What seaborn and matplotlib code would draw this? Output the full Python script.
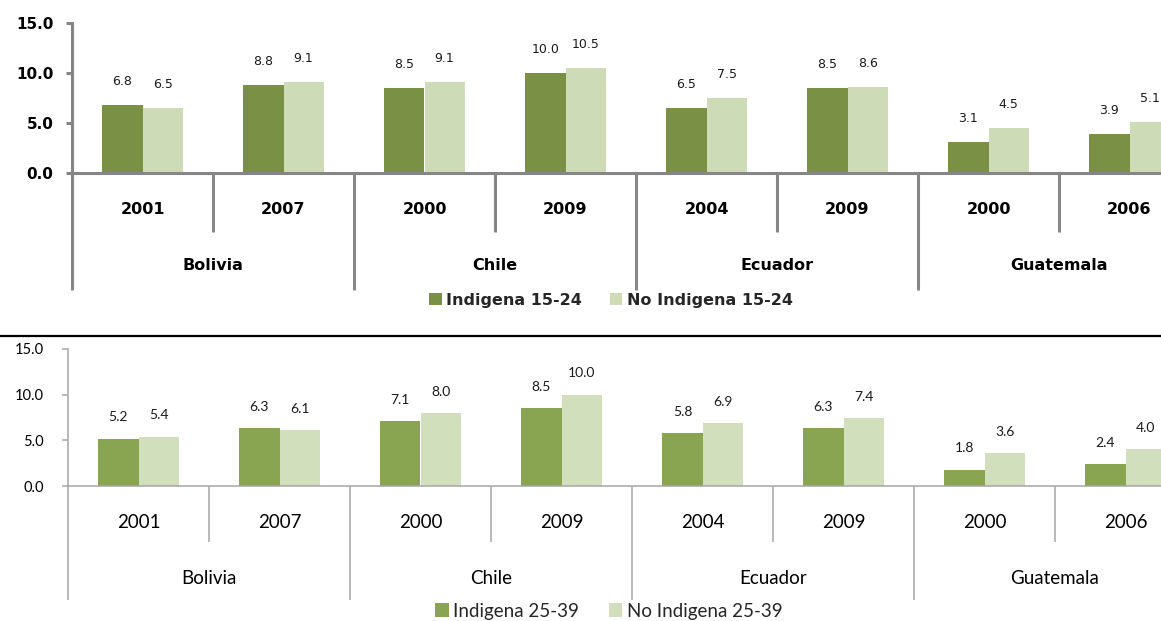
import matplotlib
matplotlib.use("Agg")
import matplotlib.pyplot as plt
from matplotlib.lines import Line2D
import seaborn as sns
import pandas as pd

# Survey years grouped by country
countries = ["Bolivia", "Chile", "Ecuador", "Guatemala"]
years = ["2001", "2007", "2000", "2009", "2004", "2009", "2000", "2006"]
country_of_year = ["Bolivia", "Bolivia", "Chile", "Chile",
                   "Ecuador", "Ecuador", "Guatemala", "Guatemala"]

# Average years of schooling, 15-24 age group
indigena_15_24 = [6.8, 8.8, 8.5, 10.0, 6.5, 8.5, 3.1, 3.9]
no_indigena_15_24 = [6.5, 9.1, 9.1, 10.5, 7.5, 8.6, 4.5, 5.1]

# Average years of schooling, 25-39 age group
indigena_25_39 = [5.2, 6.3, 7.1, 8.5, 5.8, 6.3, 1.8, 2.4]
no_indigena_25_39 = [5.4, 6.1, 8.0, 10.0, 6.9, 7.4, 3.6, 4.0]

series_top = ["Indigena 15-24", "No Indigena 15-24"]
series_bottom = ["Indigena 25-39", "No Indigena 25-39"]
y_ticks = [0, 5, 10, 15]

W, H = 1161, 621
sns.set_theme(style="white")
plt.rcParams["font.family"] = ["DejaVu Sans"]

fig = plt.figure(figsize=(W / 100, H / 100), dpi=100)


def frame(df_series, values_a, values_b):
    keys = [f"{c} {y}" for c, y in zip(country_of_year, years)]
    rows = []
    for k, a, b in zip(keys, values_a, values_b):
        rows.append({"grupo": k, "serie": df_series[0], "valor": a})
        rows.append({"grupo": k, "serie": df_series[1], "valor": b})
    return pd.DataFrame(rows), keys


def panel(left_px, zero_px, height_px, data_a, data_b, names, colors, st):
    group_px = 141
    ax = fig.add_axes([left_px / W, (H - zero_px) / H,
                       (W - left_px) / W, height_px / H])
    df, keys = frame(names, data_a, data_b)
    sns.barplot(data=df, x="grupo", y="valor", hue="serie", order=keys,
                hue_order=names, palette=dict(zip(names, colors)),
                width=0.57, saturation=1, linewidth=0, ax=ax)
    ax.get_legend().remove()
    ax.set_xlim(-0.5, -0.5 + (W - left_px) / group_px)
    ax.set_ylim(0, 15)
    ax.set_yticks(y_ticks)
    ax.set_yticklabels([f"{t:.1f}" for t in y_ticks],
                       fontsize=st["tick_size"], fontweight=st["weight"],
                       family=st["family"], color="black")
    ax.set_xticks([])
    ax.set_xlabel("")
    ax.set_ylabel("")
    for s in ["top", "right"]:
        ax.spines[s].set_visible(False)
    for s in ["left", "bottom"]:
        ax.spines[s].set_color(st["axis_color"])
        ax.spines[s].set_linewidth(st["axis_lw"])
    ax.tick_params(axis="y", left=True, length=4.3, width=st["axis_lw"],
                   color=st["axis_color"], pad=st["tick_pad"])

    for cont in ax.containers:
        ax.bar_label(cont, fmt="%.1f", padding=st["label_pad"],
                     fontsize=st["value_size"], family=st["value_family"],
                     color="#1a1a1a")

    trans = ax.get_xaxis_transform()
    # category separators below the axis
    for k in range(0, 9):
        xpos = k - 0.5
        end = st["long_end"] if k % 2 == 0 else st["short_end"]
        ax.plot([xpos, xpos], [0, end], transform=trans, clip_on=False,
                color=st["axis_color"], lw=st["axis_lw"],
                solid_capstyle="butt")
    for i, yr in enumerate(years):
        ax.text(i, st["year_y"], yr, transform=trans, ha="center",
                va="center", fontsize=st["text_size"],
                fontweight=st["weight"], family=st["family"], color="black")
    for j, c in enumerate(countries):
        ax.text(2 * j + 0.5, st["country_y"], c, transform=trans,
                ha="center", va="center", fontsize=st["text_size"],
                fontweight=st["weight"], family=st["family"], color="black")

    handles, labels = ax.get_legend_handles_labels()
    fig.legend(handles, labels, loc="center",
               bbox_to_anchor=(st["leg_x"] / W, (H - st["leg_y"]) / H),
               ncol=2, frameon=False, handlelength=st["hl"],
               handleheight=st["hl"], handletextpad=st["htp"],
               columnspacing=st["cs"],
               prop={"size": st["text_size"], "weight": st["weight"],
                     "family": st["family"]})
    return ax


top_style = dict(family="DejaVu Sans", weight="bold", tick_size=11,
                 text_size=11.5, value_family="DejaVu Sans", value_size=9,
                 axis_color="#868686", axis_lw=2.2, tick_pad=9,
                 label_pad=12, long_end=(173 - 290) / 150,
                 short_end=(173 - 232) / 150, year_y=(173 - 210) / 150,
                 country_y=(173 - 266) / 150, leg_x=611, leg_y=300,
                 hl=0.8, htp=0.3, cs=1.7)
bottom_style = dict(family="Lato", weight="normal", tick_size=10.5,
                    text_size=13.5, value_family="Lato", value_size=10,
                    axis_color="#a6a6a6", axis_lw=1.1, tick_pad=13,
                    label_pad=11, long_end=(486 - 600) / 137,
                    short_end=(486 - 542) / 137, year_y=(486 - 522) / 137,
                    country_y=(486 - 579) / 137, leg_x=609, leg_y=611,
                    hl=0.7, htp=0.25, cs=1.6)

panel(72, 173, 150, indigena_15_24, no_indigena_15_24, series_top,
      ["#7a9044", "#cddbb6"], top_style)
panel(68, 486, 137, indigena_25_39, no_indigena_25_39, series_bottom,
      ["#8aa552", "#d2dfbd"], bottom_style)

# rule dividing the two panels
fig.add_artist(Line2D([0, 1], [(H - 336) / H, (H - 336) / H],
                      transform=fig.transFigure, color="black", lw=1.6))

fig.savefig("out.png", dpi=100)
